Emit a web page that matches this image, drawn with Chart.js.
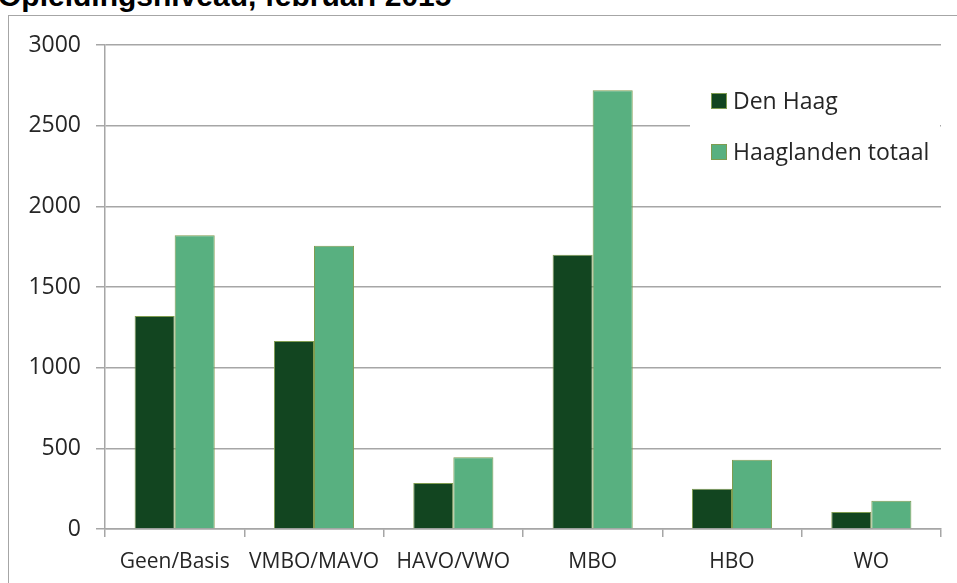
<!DOCTYPE html>
<html>
<head>
<meta charset="utf-8">
<script src="https://cdn.jsdelivr.net/npm/chart.js@4.4.1/dist/chart.umd.min.js"></script>
<style>
  html, body { margin: 0; padding: 0; background: #fff; overflow: hidden; }
  #wrap { position: relative; width: 957px; height: 583px; overflow: hidden; }
  #title { position: absolute; left: -2px; top: -21px; font: bold 30px "Liberation Sans", Arial, sans-serif; color: #000; white-space: nowrap; line-height: 34px; }
  #frame { position: absolute; left: 8px; top: 15px; width: 1000px; height: 600px; border-left: 1px solid #a6a6a6; border-top: 1px solid #a6a6a6; }
  #chartBox { position: absolute; left: 0; top: 0; width: 957px; height: 583px; }
</style>
</head>
<body>
<div id="wrap">
  <div id="title">Opleidingsniveau, februari 2015</div>
  <div id="frame"></div>
  <div id="chartBox"><canvas id="barChart"></canvas></div>
</div>
<script>
const categories = ['Geen/Basis', 'VMBO/MAVO', 'HAVO/VWO', 'MBO', 'HBO', 'WO'];
const denHaag = [1320, 1165, 285, 1700, 250, 105];
const haaglanden = [1820, 1755, 445, 2720, 430, 175];
const yTicks = [0, 500, 1000, 1500, 2000, 2500, 3000];

const textColor = '#262626';

// legend box inside the plot, drawn on top of the grid
const insideLegend = {
  id: 'insideLegend',
  afterDatasetsDraw(chart) {
    const c = chart.ctx;
    c.save();
    c.fillStyle = '#fff';
    c.fillRect(690, 70, 250, 110);
    chart.data.datasets.forEach((ds, i) => {
      const y = 93 + i * 51;
      c.fillStyle = ds.backgroundColor;
      c.fillRect(711, y, 16, 16);
      c.strokeStyle = ds.borderColor;
      c.lineWidth = 1;
      c.strokeRect(711.5, y + 0.5, 15, 15);
      c.fillStyle = textColor;
      c.font = '23px "Open Sans"';
      c.textBaseline = 'middle';
      c.fillText(ds.label, 733, y + 9);
    });
    c.restore();
  }
};

const ctx = document.getElementById('barChart');

new Chart(ctx, {
  type: 'bar',
  data: {
    labels: categories,
    datasets: [{
      label: 'Den Haag',
      data: denHaag,
      backgroundColor: '#124520',
      borderColor: '#7f9c50',
      borderWidth: 1,
      borderSkipped: 'bottom',
      barPercentage: 1.0,
      categoryPercentage: 0.575
    }, {
      label: 'Haaglanden totaal',
      data: haaglanden,
      backgroundColor: '#58b080',
      borderColor: '#7f9c50',
      borderWidth: 1,
      borderSkipped: 'bottom',
      barPercentage: 1.0,
      categoryPercentage: 0.575
    }]
  },
  options: {
    responsive: true,
    maintainAspectRatio: false,
    animation: false,
    layout: { padding: { top: 45, right: 16, bottom: 0, left: 0 } },
    plugins: {
      legend: { display: false },
      tooltip: { enabled: false }
    },
    scales: {
      x: {
        offset: true,
        grid: { offset: true, drawOnChartArea: false, drawTicks: true, tickLength: 8, color: '#a6a6a6', lineWidth: 1.5 },
        border: { color: '#a6a6a6', width: 1.5 },
        ticks: { font: { family: 'Open Sans', size: 21 }, color: textColor, padding: 12, maxRotation: 0, autoSkip: false },
        afterFit(scale) { scale.height = 54; }
      },
      y: {
        min: 0,
        max: 3000,
        afterBuildTicks(scale) { scale.ticks = yTicks.map(v => ({ value: v })); },
        grid: { color: '#a6a6a6', lineWidth: 1.5, tickLength: 9 },
        border: { color: '#a6a6a6', width: 1.5 },
        ticks: { font: { family: 'Open Sans', size: 23 }, color: textColor, padding: 15, callback: v => String(v) },
        afterFit(scale) { scale.width = 105; }
      }
    }
  },
  plugins: [insideLegend]
});
</script>
</body>
</html>
